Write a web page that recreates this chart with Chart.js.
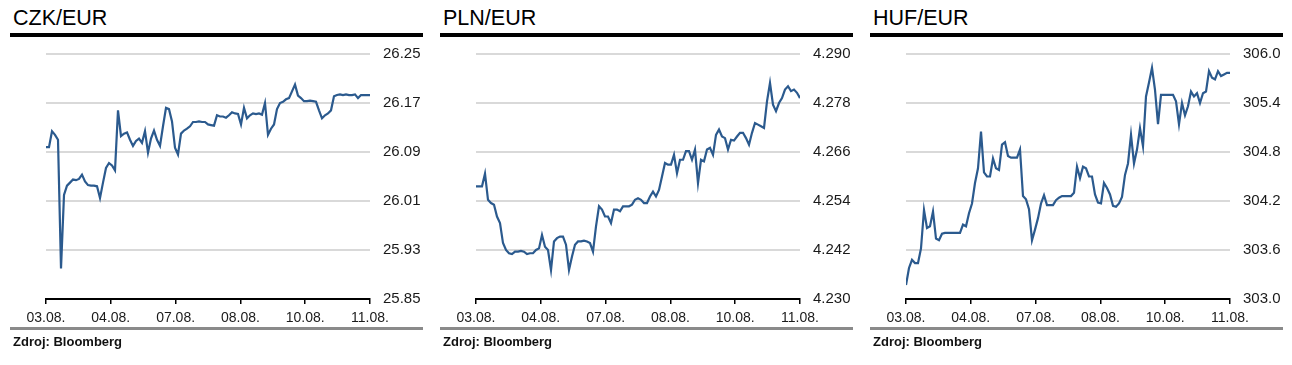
<!DOCTYPE html>
<html>
<head>
<meta charset="utf-8">
<script src="https://cdn.jsdelivr.net/npm/chart.js@4.4.1/dist/chart.umd.min.js"></script>
<style>
    body { margin: 0; background: #fff; font-family: Arial, "Liberation Sans", sans-serif; }
    .panel { position: absolute; top: 0; width: 430px; height: 365px; }
    .title { position: absolute; left: 13px; top: 6px; font-size: 21.5px; color: #000; }
    .rule { position: absolute; left: 10px; top: 33px; width: 413px; height: 4px; background: #000; }
    .base { position: absolute; left: 10px; top: 327px; width: 413px; height: 3px; background: #8a8a8a; }
    .src { position: absolute; left: 13px; top: 334px; font-size: 13px; font-weight: bold; color: #111; }
    canvas { position: absolute; left: 0; top: 0; }
</style>
</head>
<body>
<div class="panel" style="left:0px">
    <div class="title">CZK/EUR</div>
    <div class="rule"></div>
    <canvas id="czkChart" width="430" height="330"></canvas>
    <div class="base"></div>
    <div class="src">Zdroj: Bloomberg</div>
</div>
<div class="panel" style="left:430px">
    <div class="title">PLN/EUR</div>
    <div class="rule"></div>
    <canvas id="plnChart" width="430" height="330"></canvas>
    <div class="base"></div>
    <div class="src">Zdroj: Bloomberg</div>
</div>
<div class="panel" style="left:860px">
    <div class="title">HUF/EUR</div>
    <div class="rule"></div>
    <canvas id="hufChart" width="430" height="330"></canvas>
    <div class="base"></div>
    <div class="src">Zdroj: Bloomberg</div>
</div>
<script>
// osa x - obchodni dny
var dayLabels = ['03.08.', '04.08.', '07.08.', '08.08.', '10.08.', '11.08.'];

// CZK/EUR
var czkValues = [
    26.098, 26.098, 26.124, 26.118, 26.110, 25.900, 26.020, 26.035, 26.040, 26.045,
    26.044, 26.046, 26.053, 26.042, 26.036, 26.035, 26.035, 26.034, 26.015, 26.040,
    26.064, 26.072, 26.068, 26.060, 26.158, 26.116, 26.120, 26.122, 26.110, 26.100,
    26.108, 26.112, 26.105, 26.124, 26.089, 26.112, 26.125, 26.110, 26.100, 26.132,
    26.162, 26.160, 26.140, 26.097, 26.086, 26.120, 26.125, 26.128, 26.132, 26.139,
    26.139, 26.140, 26.139, 26.139, 26.135, 26.134, 26.133, 26.150, 26.148, 26.148,
    26.146, 26.150, 26.155, 26.153, 26.152, 26.135, 26.162, 26.145, 26.150, 26.153,
    26.152, 26.153, 26.151, 26.170, 26.118, 26.128, 26.135, 26.160, 26.170, 26.172,
    26.176, 26.178, 26.189, 26.200, 26.182, 26.178, 26.173, 26.173, 26.174, 26.173,
    26.172, 26.158, 26.145, 26.150, 26.153, 26.158, 26.181, 26.183, 26.184, 26.183,
    26.184, 26.183, 26.183, 26.184, 26.178, 26.183, 26.183, 26.183, 26.183
];
var czkTicks = [25.85, 25.93, 26.01, 26.09, 26.17, 26.25];

// PLN/EUR
var plnValues = [
    4.2576, 4.2576, 4.2576, 4.2607, 4.2543, 4.2535, 4.2531, 4.2502, 4.2486, 4.2437,
    4.2420, 4.2412, 4.2410, 4.2416, 4.2416, 4.2418, 4.2416, 4.2410, 4.2412, 4.2412,
    4.2420, 4.2424, 4.2457, 4.2428, 4.2420, 4.2371, 4.2441, 4.2449, 4.2453, 4.2453,
    4.2433, 4.2371, 4.2404, 4.2433, 4.2441, 4.2441, 4.2443, 4.2441, 4.2437, 4.2416,
    4.2478, 4.2527, 4.2519, 4.2502, 4.2502, 4.2486, 4.2519, 4.2519, 4.2515, 4.2527,
    4.2527, 4.2527, 4.2531, 4.2543, 4.2547, 4.2543, 4.2535, 4.2535, 4.2551, 4.2563,
    4.2551, 4.2567, 4.2600, 4.2633, 4.2629, 4.2629, 4.2653, 4.2608, 4.2641, 4.2641,
    4.2662, 4.2662, 4.2641, 4.2666, 4.2584, 4.2641, 4.2637, 4.2666, 4.2670, 4.2653,
    4.2702, 4.2715, 4.2698, 4.2694, 4.2666, 4.2690, 4.2688, 4.2698, 4.2707, 4.2707,
    4.2694, 4.2678, 4.2707, 4.2731, 4.2727, 4.2723, 4.2719, 4.2784, 4.2829, 4.2776,
    4.2760, 4.2780, 4.2792, 4.2813, 4.2821, 4.2809, 4.2813, 4.2805, 4.2792
];
var plnTicks = [4.230, 4.242, 4.254, 4.266, 4.278, 4.290];

// HUF/EUR
var hufValues = [
    303.17, 303.38, 303.48, 303.44, 303.44, 303.62, 304.09, 303.87, 303.89, 304.07,
    303.74, 303.72, 303.80, 303.81, 303.81, 303.81, 303.81, 303.81, 303.81, 303.91,
    303.89, 304.05, 304.17, 304.42, 304.60, 305.05, 304.55, 304.50, 304.50, 304.72,
    304.60, 304.58, 304.89, 304.92, 304.75, 304.73, 304.73, 304.73, 304.83, 304.26,
    304.22, 304.10, 303.72, 303.85, 303.99, 304.17, 304.27, 304.15, 304.15, 304.15,
    304.21, 304.24, 304.26, 304.26, 304.26, 304.26, 304.30, 304.62, 304.48, 304.62,
    304.60, 304.50, 304.50, 304.28, 304.18, 304.17, 304.42, 304.36, 304.28, 304.14,
    304.13, 304.17, 304.25, 304.52, 304.66, 305.01, 304.66, 304.83, 305.09, 304.87,
    305.48, 305.65, 305.83, 305.56, 305.14, 305.50, 305.50, 305.50, 305.50, 305.50,
    305.42, 305.14, 305.40, 305.25, 305.36, 305.54, 305.48, 305.52, 305.40, 305.52,
    305.54, 305.79, 305.71, 305.69, 305.79, 305.73, 305.75, 305.77, 305.77
];
var hufTicks = [303.0, 303.6, 304.2, 304.8, 305.4, 306.0];

Chart.defaults.font.family = 'Arial, "Liberation Sans", sans-serif';

function makeChart(id, values, yTicks, decimals) {
    var xMax = values.length - 1;
    var ctx = document.getElementById(id).getContext('2d');
    return new Chart(ctx, {
        type: 'line',
        data: {
            datasets: [{
                data: values.map(function (v, i) { return { x: i, y: v }; }),
                borderColor: '#2b5a8e',
                borderWidth: 2.2,
                pointRadius: 0,
                tension: 0
            }]
        },
        options: {
            responsive: false,
            animation: false,
            layout: { padding: { left: 46, top: 54, right: 0, bottom: 0 } },
            plugins: {
                legend: { display: false },
                tooltip: { enabled: false }
            },
            scales: {
                x: {
                    type: 'linear',
                    min: 0,
                    max: xMax,
                    afterBuildTicks: function (s) {
                        s.ticks = dayLabels.map(function (d, k) {
                            return { value: k * xMax / (dayLabels.length - 1) };
                        });
                    },
                    afterFit: function (s) { s.height = 31; },
                    grid: { drawOnChartArea: false, drawTicks: true, tickLength: 5, color: '#000', lineWidth: 1.5 },
                    border: { color: '#000', width: 2 },
                    ticks: {
                        autoSkip: false,
                        maxRotation: 0,
                        padding: 6,
                        color: '#1a1a1a',
                        font: { size: 14 },
                        callback: function (v, k) { return dayLabels[k]; }
                    }
                },
                y: {
                    position: 'right',
                    min: yTicks[0],
                    max: yTicks[yTicks.length - 1],
                    afterBuildTicks: function (s) {
                        s.ticks = yTicks.map(function (v) { return { value: v }; });
                    },
                    afterFit: function (s) { s.width = 60; },
                    grid: {
                        color: function (c) { return c.index === 0 ? 'rgba(0,0,0,0)' : '#d9d9d9'; },
                        lineWidth: 2,
                        drawTicks: false
                    },
                    border: { display: false },
                    ticks: {
                        padding: 13,
                        color: '#1a1a1a',
                        font: { size: 15 },
                        callback: function (v) { return Number(v).toFixed(decimals); }
                    }
                }
            }
        }
    });
}

window.onload = function () {
    makeChart('czkChart', czkValues, czkTicks, 2);
    makeChart('plnChart', plnValues, plnTicks, 3);
    makeChart('hufChart', hufValues, hufTicks, 1);
};
</script>
</body>
</html>
